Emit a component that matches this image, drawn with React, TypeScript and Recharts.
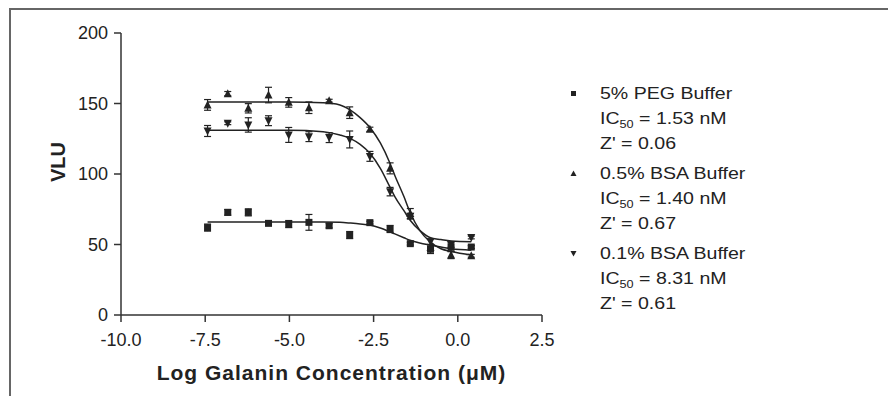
import React from 'react';
import {
  ComposedChart,
  Line,
  Scatter,
  ErrorBar,
  XAxis,
  YAxis,
  Legend,
  Label
} from 'recharts';

// log10 galanin concentration (uM), 4-fold dilution series
const logConc = [-7.43, -6.83, -6.22, -5.62, -5.02, -4.42, -3.82, -3.21, -2.61, -2.01, -1.41, -0.81, -0.2, 0.4];

// mean VLU and error per concentration
const pegMean = [62, 72.8, 72.8, 65, 64.5, 65.7, 63.3, 56.7, 65.5, 61, 50.6, 46.6, 48, 48.2];
const pegErr = [2.5, 2, 2.5, 1, 2.5, 5.6, 1.5, 2.5, 1, 2.5, 1, 3, 3, 1];
const bsa05Mean = [149, 157, 146.6, 156, 150.8, 147, 152, 143.5, 131.7, 104, 72, 48, 42.5, 42];
const bsa05Err = [3.8, 1.5, 3.3, 5.5, 3.4, 4.1, 1, 4.1, 1.5, 3.9, 3.5, 2, 2.5, 1];
const bsa01Mean = [130.5, 136, 134.8, 137.8, 127.7, 126.5, 125.8, 124.5, 112.5, 87.5, 70, 52, 50, 55];
const bsa01Err = [3.9, 1, 5.1, 3.5, 5.3, 3.5, 3.5, 6, 3.5, 3, 2, 2, 2, 1];

// sigmoidal fit curves
const fitX = [-7.43, -5.0, -4.0, -3.5, -3.2, -2.9, -2.61, -2.3, -2.02, -1.87, -1.6, -1.42, -1.13, -0.83, -0.5, -0.19, 0.4];
const pegFit = [66, 66, 66, 65.7, 65.2, 64.6, 63.8, 61.7, 59, 57.5, 54.8, 53, 51, 49.6, 48.2, 47, 46];
const bsa05Fit = [151, 151, 150.5, 149, 145.5, 140, 133, 122, 108, 99, 84, 73, 60, 52, 47, 45, 42.5];
const bsa01Fit = [131, 131, 130, 127.7, 125.3, 121, 114.7, 104, 91, 84, 74, 67.4, 60, 55, 53.5, 52.5, 52];

const xTicks = [-10, -7.5, -5, -2.5, 0, 2.5];
const yTicks = [0, 50, 100, 150, 200];

const seriesNames = ['5% PEG Buffer', '0.5% BSA Buffer', '0.1% BSA Buffer'];
const ic50Labels = ['1.53 nM', '1.40 nM', '8.31 nM'];
const zPrimeLabels = ['0.06', '0.67', '0.61'];

const INK = '#222';
const FONT = '"Liberation Sans", Arial, sans-serif';

const toPoints = (xs: number[], ys: number[], errs?: number[]) =>
  xs.map((x, i) => ({ x, y: ys[i], err: errs ? errs[i] : 0 }));

const SquareDot = ({ cx, cy }: any) => (
  <rect x={cx - 3.5} y={cy - 3.5} width={7} height={7} fill={INK} />
);
const TriUp = ({ cx, cy }: any) => (
  <polygon points={`${cx},${cy - 4.5} ${cx - 4},${cy + 3.5} ${cx + 4},${cy + 3.5}`} fill={INK} />
);
const TriDown = ({ cx, cy }: any) => (
  <polygon points={`${cx},${cy + 4.5} ${cx - 4},${cy - 3.5} ${cx + 4},${cy - 3.5}`} fill={INK} />
);

const legendIcons = [
  <rect x={1} y={1} width={5} height={5} fill={INK} />,
  <polygon points="3.5,0.5 0.5,6 6.5,6" fill={INK} />,
  <polygon points="3.5,6.5 0.5,1 6.5,1" fill={INK} />
];

const rowStyle = { height: 25, lineHeight: '25px', whiteSpace: 'nowrap' as const };

const LegendBlock = () => (
  <div style={{ fontFamily: FONT, fontSize: 17, color: INK }}>
    {seriesNames.map((name, i) => (
      <div key={name} style={{ position: 'relative', paddingLeft: 40, height: 80 }}>
        <svg width={7} height={7} style={{ position: 'absolute', left: 10, top: 9 }}>
          {legendIcons[i]}
        </svg>
        <div style={{ transform: 'scaleX(1.15)', transformOrigin: 'left center' }}>
          <div style={rowStyle}>{name}</div>
          <div style={rowStyle}>
            IC
            <span style={{ fontSize: 11, position: 'relative', top: 4, color: INK }}>50</span> ={' '}
            {ic50Labels[i]}
          </div>
          <div style={rowStyle}>Z' = {zPrimeLabels[i]}</div>
        </div>
      </div>
    ))}
  </div>
);

const XTitle = ({ viewBox }: any) => (
  <text
    x={viewBox.x + viewBox.width / 2}
    y={viewBox.y + viewBox.height - 16}
    textAnchor="middle"
    fontFamily={FONT}
    fontWeight="bold"
    fontSize={21}
    letterSpacing={1}
    fill={INK}
  >
    Log Galanin Concentration (μM)
  </text>
);

const YTitle = () => {
  const cx = 65;
  const cy = 162;
  return (
    <text
      x={cx}
      y={cy}
      transform={`rotate(-90, ${cx}, ${cy})`}
      textAnchor="middle"
      fontFamily={FONT}
      fontWeight="bold"
      fontSize={20}
      fill={INK}
    >
      VLU
    </text>
  );
};

export default function App() {
  const tickStyle = { fontFamily: FONT, fontSize: 18, fill: INK };
  const axisLine = { stroke: '#333', strokeWidth: 1.5 };

  return (
    <div style={{ position: 'absolute', left: 0, top: 0, width: 888, height: 396, background: '#fff' }}>
      <div
        style={{
          position: 'absolute',
          left: 9,
          top: 8,
          right: 0,
          bottom: 0,
          borderTop: '2px solid #666',
          borderLeft: '2px solid #666'
        }}
      />
      <ComposedChart
        width={888}
        height={396}
        margin={{ top: 33, right: 346, bottom: 0, left: 33 }}
        style={{ position: 'absolute', left: 0, top: 0 }}
      >
        <XAxis
          type="number"
          dataKey="x"
          domain={[-10, 2.5]}
          ticks={xTicks}
          tickFormatter={(v: number) => v.toFixed(1)}
          tick={tickStyle}
          tickSize={7}
          tickMargin={11}
          axisLine={axisLine}
          tickLine={axisLine}
          height={81}
          allowDataOverflow
        >
          <Label content={XTitle} />
        </XAxis>
        <YAxis
          type="number"
          dataKey="y"
          domain={[0, 200]}
          ticks={yTicks}
          tick={tickStyle}
          tickSize={7}
          tickMargin={6}
          axisLine={axisLine}
          tickLine={axisLine}
          width={88}
          allowDataOverflow
        >
          <Label content={YTitle} />
        </YAxis>

        <Line data={toPoints(fitX, pegFit)} dataKey="y" type="monotone" stroke={INK} strokeWidth={1.5} dot={false} legendType="none" isAnimationActive={false} />
        <Line data={toPoints(fitX, bsa05Fit)} dataKey="y" type="monotone" stroke={INK} strokeWidth={1.5} dot={false} legendType="none" isAnimationActive={false} />
        <Line data={toPoints(fitX, bsa01Fit)} dataKey="y" type="monotone" stroke={INK} strokeWidth={1.5} dot={false} legendType="none" isAnimationActive={false} />

        <Scatter name={seriesNames[0]} data={toPoints(logConc, pegMean, pegErr)} shape={SquareDot} isAnimationActive={false}>
          <ErrorBar dataKey="err" direction="y" width={3.5} stroke={INK} strokeWidth={1.2} />
        </Scatter>
        <Scatter name={seriesNames[1]} data={toPoints(logConc, bsa05Mean, bsa05Err)} shape={TriUp} isAnimationActive={false}>
          <ErrorBar dataKey="err" direction="y" width={3.5} stroke={INK} strokeWidth={1.2} />
        </Scatter>
        <Scatter name={seriesNames[2]} data={toPoints(logConc, bsa01Mean, bsa01Err)} shape={TriDown} isAnimationActive={false}>
          <ErrorBar dataKey="err" direction="y" width={3.5} stroke={INK} strokeWidth={1.2} />
        </Scatter>

        <Legend
          layout="vertical"
          align="center"
          verticalAlign="middle"
          wrapperStyle={{ left: 560, top: 81, width: 280 }}
          content={LegendBlock}
        />
      </ComposedChart>
    </div>
  );
}
